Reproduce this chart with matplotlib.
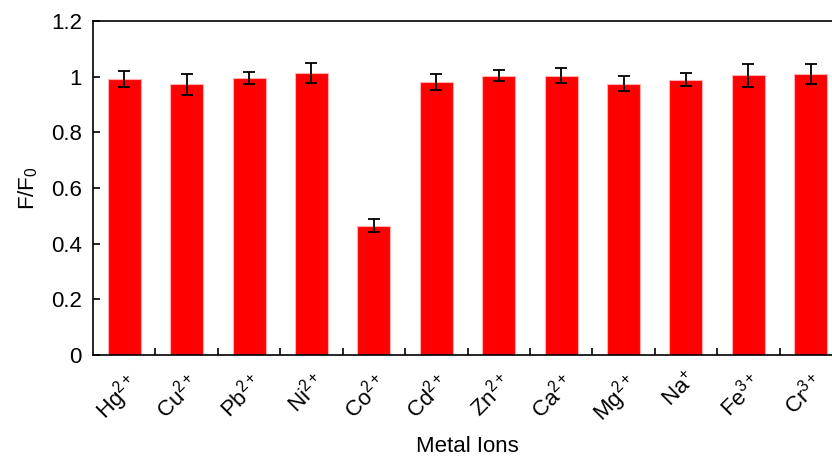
import numpy as np
import matplotlib.pyplot as plt

plt.rcParams['font.family'] = ['Liberation Sans', 'DejaVu Sans']
plt.rcParams['mathtext.fontset'] = 'custom'
plt.rcParams['mathtext.rm'] = 'Liberation Sans'
plt.rcParams['mathtext.it'] = 'Liberation Sans'

# metal ions and normalised fluorescence F/F0 with error
ions = ['Hg$^{2+}$', 'Cu$^{2+}$', 'Pb$^{2+}$', 'Ni$^{2+}$', 'Co$^{2+}$', 'Cd$^{2+}$',
        'Zn$^{2+}$', 'Ca$^{2+}$', 'Mg$^{2+}$', 'Na$^{+}$', 'Fe$^{3+}$', 'Cr$^{3+}$']
ratio = [0.992, 0.973, 0.995, 1.013, 0.465, 0.980, 1.003, 1.003, 0.975, 0.989, 1.005, 1.009]
err = [0.028, 0.037, 0.023, 0.035, 0.023, 0.029, 0.020, 0.027, 0.026, 0.023, 0.041, 0.036]

fig = plt.figure(figsize=(8.32, 4.61), dpi=100)
ax = fig.add_axes([0.1118, 0.2299, 0.9002, 0.7245])

x = np.arange(len(ions))
ax.bar(x, ratio, width=0.53, color='#ff0000', edgecolor='#ffb0b0', linewidth=0.8, zorder=2)
ax.errorbar(x, ratio, yerr=err, fmt='none', ecolor='black', elinewidth=1.3,
            capsize=4, capthick=1.3, zorder=3)

ax.set_xlim(-0.5, len(ions) - 0.5)
ax.set_ylim(0, 1.2)
ax.set_yticks([0, 0.2, 0.4, 0.6, 0.8, 1.0, 1.2])
ax.set_yticklabels(['0', '0.2', '0.4', '0.6', '0.8', '1', '1.2'])
ax.set_xticks(x)
ax.set_xticklabels(ions, rotation=45, ha='right', va='top', rotation_mode='anchor')
ax.set_xticks(x[:-1] + 0.5, minor=True)

ax.tick_params(axis='x', which='major', length=0, pad=10, labelsize=16)
ax.tick_params(axis='x', which='minor', direction='in', length=5, width=1.2)
ax.tick_params(axis='y', direction='in', length=5, width=1.2, labelsize=16, pad=8)
for s in ax.spines.values():
    s.set_linewidth(1.2)

ax.set_ylabel('F/F$_0$', fontsize=16, labelpad=8)
ax.set_xlabel('Metal Ions', fontsize=16, labelpad=6)

fig.savefig('out.png', dpi=100)
